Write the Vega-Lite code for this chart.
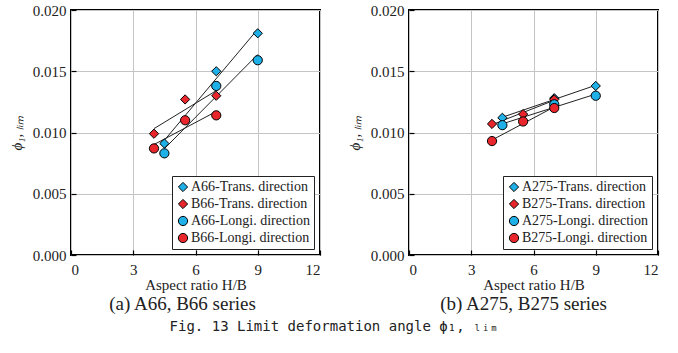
{
  "$schema": "https://vega.github.io/schema/vega-lite/v6.json",
  "padding": {"left": 8, "top": 2, "right": 5, "bottom": 5},
  "background": "white",
  "config": {
    "font": "Liberation Serif",
    "view": {"stroke": "black", "strokeWidth": 2},
    "axis": {
      "grid": true, "gridColor": "#c4c4c4", "gridWidth": 1,
      "domain": false, "tickColor": "black", "tickSize": -5, "tickWidth": 1.2,
      "labelFont": "Liberation Serif", "labelFontSize": 15, "labelColor": "#222",
      "titleFont": "Liberation Serif", "titleFontSize": 15, "titleFontWeight": "normal", "titleColor": "#222"
    },
    "legend": {
      "orient": "bottom-right", "offset": 6, "title": null,
      "strokeColor": "#222", "fillColor": "white", "padding": 4,
      "labelFont": "Liberation Serif", "labelFontSize": 14, "labelColor": "#222",
      "rowPadding": 3, "symbolStrokeColor": "black", "symbolStrokeWidth": 1, "labelOffset": 1
    }
  },
  "datasets": {
    "a": [
      {"series": "A66-Trans. direction", "hb": 4.5, "phi": 0.0091},
      {"series": "A66-Trans. direction", "hb": 7.0, "phi": 0.0150},
      {"series": "A66-Trans. direction", "hb": 9.0, "phi": 0.0181},
      {"series": "B66-Trans. direction", "hb": 4.0, "phi": 0.0099},
      {"series": "B66-Trans. direction", "hb": 5.5, "phi": 0.0127},
      {"series": "B66-Trans. direction", "hb": 7.0, "phi": 0.0130},
      {"series": "A66-Longi. direction", "hb": 4.5, "phi": 0.0083},
      {"series": "A66-Longi. direction", "hb": 7.0, "phi": 0.0138},
      {"series": "A66-Longi. direction", "hb": 9.0, "phi": 0.0159},
      {"series": "B66-Longi. direction", "hb": 4.0, "phi": 0.0087},
      {"series": "B66-Longi. direction", "hb": 5.5, "phi": 0.0110},
      {"series": "B66-Longi. direction", "hb": 7.0, "phi": 0.0114}
    ],
    "b": [
      {"series": "A275-Trans. direction", "hb": 4.5, "phi": 0.0112},
      {"series": "A275-Trans. direction", "hb": 7.0, "phi": 0.0128},
      {"series": "A275-Trans. direction", "hb": 9.0, "phi": 0.0138},
      {"series": "B275-Trans. direction", "hb": 4.0, "phi": 0.0107},
      {"series": "B275-Trans. direction", "hb": 5.5, "phi": 0.0115},
      {"series": "B275-Trans. direction", "hb": 7.0, "phi": 0.0127},
      {"series": "A275-Longi. direction", "hb": 4.5, "phi": 0.0106},
      {"series": "A275-Longi. direction", "hb": 7.0, "phi": 0.0123},
      {"series": "A275-Longi. direction", "hb": 9.0, "phi": 0.0130},
      {"series": "B275-Longi. direction", "hb": 4.0, "phi": 0.0093},
      {"series": "B275-Longi. direction", "hb": 5.5, "phi": 0.0109},
      {"series": "B275-Longi. direction", "hb": 7.0, "phi": 0.0120}
    ]
  },
  "title": {
    "text": "Fig. 13 Limit deformation angle ϕ₁, ₗᵢₘ",
    "orient": "bottom", "anchor": "middle", "offset": 5,
    "font": "DejaVu Sans Mono", "fontSize": 14, "fontWeight": "normal", "color": "#222"
  },
  "spacing": 24,
  "resolve": {
    "scale": {"color": "independent", "shape": "independent", "size": "independent"},
    "legend": {"color": "independent", "shape": "independent", "size": "independent"}
  },
  "hconcat": [
    {
      "width": 249, "height": 245,
      "data": {"name": "a"},
      "title": {"text": "(a) A66, B66 series", "orient": "bottom", "anchor": "middle", "offset": 3, "dx": -13, "font": "Liberation Serif", "fontSize": 19, "fontWeight": "normal", "color": "#222"},
      "layer": [
        {
          "transform": [{"regression": "phi", "on": "hb", "groupby": ["series"]}],
          "mark": {"type": "line", "color": "#222", "strokeWidth": 1},
          "encoding": {
            "x": {"field": "hb", "type": "quantitative"},
            "y": {"field": "phi", "type": "quantitative"},
            "detail": {"field": "series"}
          }
        },
        {
          "mark": {"type": "point", "filled": true, "stroke": "black", "strokeWidth": 1, "opacity": 1},
          "encoding": {
            "x": {"field": "hb", "type": "quantitative", "scale": {"domain": [0, 12]},
              "axis": {"values": [0, 3, 6, 9, 12], "title": "Aspect ratio H/B", "labelPadding": 12, "titlePadding": 0}},
            "y": {"field": "phi", "type": "quantitative", "scale": {"domain": [0, 0.02]},
              "axis": {"values": [0, 0.005, 0.01, 0.015, 0.02], "format": ".3f", "title": "ϕ₁, ₗᵢₘ", "titleFontStyle": "italic", "labelPadding": 10, "titlePadding": 8}},
            "color": {"field": "series", "type": "nominal",
              "scale": {"domain": ["A66-Trans. direction", "B66-Trans. direction", "A66-Longi. direction", "B66-Longi. direction"], "range": ["#1fb0e8", "#e8262b", "#1fb0e8", "#e8262b"]}},
            "shape": {"field": "series", "type": "nominal",
              "scale": {"domain": ["A66-Trans. direction", "B66-Trans. direction", "A66-Longi. direction", "B66-Longi. direction"], "range": ["diamond", "diamond", "circle", "circle"]}},
            "size": {"field": "series", "type": "nominal",
              "scale": {"domain": ["A66-Trans. direction", "B66-Trans. direction", "A66-Longi. direction", "B66-Longi. direction"], "range": [85, 85, 115, 115]}}
          }
        }
      ]
    },
    {
      "width": 249, "height": 245,
      "data": {"name": "b"},
      "title": {"text": "(b) A275, B275 series", "orient": "bottom", "anchor": "middle", "offset": 3, "dx": -10, "font": "Liberation Serif", "fontSize": 19, "fontWeight": "normal", "color": "#222"},
      "layer": [
        {
          "transform": [{"regression": "phi", "on": "hb", "groupby": ["series"]}],
          "mark": {"type": "line", "color": "#222", "strokeWidth": 1},
          "encoding": {
            "x": {"field": "hb", "type": "quantitative"},
            "y": {"field": "phi", "type": "quantitative"},
            "detail": {"field": "series"}
          }
        },
        {
          "mark": {"type": "point", "filled": true, "stroke": "black", "strokeWidth": 1, "opacity": 1},
          "encoding": {
            "x": {"field": "hb", "type": "quantitative", "scale": {"domain": [0, 12]},
              "axis": {"values": [0, 3, 6, 9, 12], "title": "Aspect ratio H/B", "labelPadding": 12, "titlePadding": 0}},
            "y": {"field": "phi", "type": "quantitative", "scale": {"domain": [0, 0.02]},
              "axis": {"values": [0, 0.005, 0.01, 0.015, 0.02], "format": ".3f", "title": "ϕ₁, ₗᵢₘ", "titleFontStyle": "italic", "labelPadding": 10, "titlePadding": 8}},
            "color": {"field": "series", "type": "nominal",
              "scale": {"domain": ["A275-Trans. direction", "B275-Trans. direction", "A275-Longi. direction", "B275-Longi. direction"], "range": ["#1fb0e8", "#e8262b", "#1fb0e8", "#e8262b"]}},
            "shape": {"field": "series", "type": "nominal",
              "scale": {"domain": ["A275-Trans. direction", "B275-Trans. direction", "A275-Longi. direction", "B275-Longi. direction"], "range": ["diamond", "diamond", "circle", "circle"]}},
            "size": {"field": "series", "type": "nominal",
              "scale": {"domain": ["A275-Trans. direction", "B275-Trans. direction", "A275-Longi. direction", "B275-Longi. direction"], "range": [85, 85, 115, 115]}}
          }
        }
      ]
    }
  ]
}
